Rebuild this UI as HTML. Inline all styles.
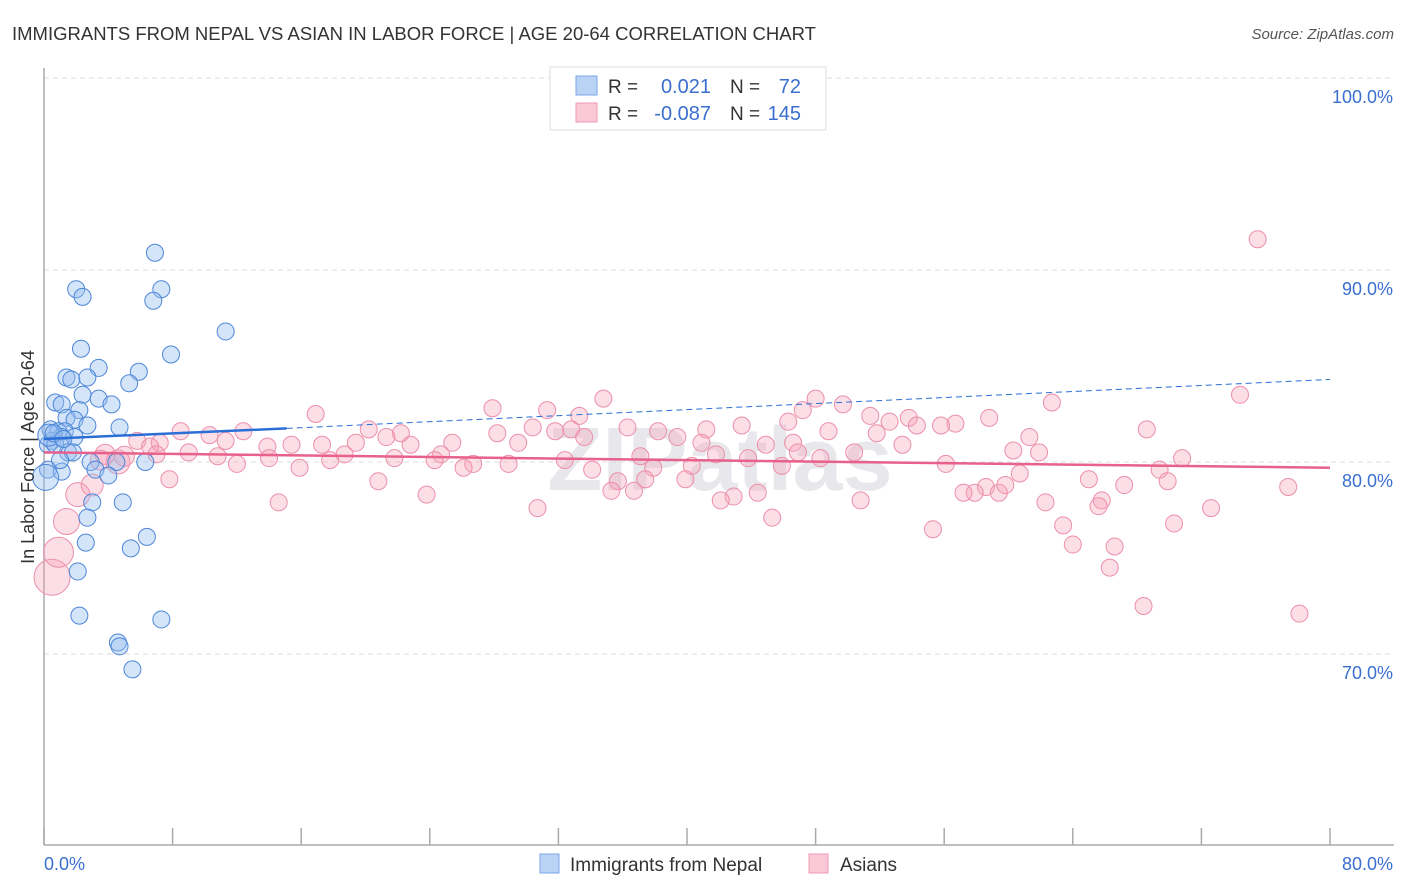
<!DOCTYPE html>
<html><head><meta charset="utf-8"><style>
body{margin:0;background:#fff;font-family:"Liberation Sans",sans-serif;}
svg{display:block}
</style></head><body>
<svg id="chart" width="1406" height="892" viewBox="0 0 1406 892">
<text x="12" y="40" font-size="18.5" fill="#333">IMMIGRANTS FROM NEPAL VS ASIAN IN LABOR FORCE | AGE 20-64 CORRELATION CHART</text>
<text x="1394" y="39" font-size="15" fill="#555" font-style="italic" text-anchor="end">Source: ZipAtlas.com</text>
<text x="720" y="490" font-size="90" fill="#e8e8ec" text-anchor="middle" font-weight="bold">ZIPatlas</text>
<g id="grid"></g>
<g id="axes"></g>
<g id="pts"></g>
<g id="trends"></g>
<text transform="translate(34,457) rotate(-90)" font-size="18" fill="#333" text-anchor="middle">In Labor Force | Age 20-64</text>
<g>
<rect x="550" y="67" width="276" height="63" fill="#fff" stroke="#ddd"/>
<rect x="576" y="76" width="21" height="19" fill="#b9d3f5" stroke="#7aa6e6"/>
<rect x="576" y="103" width="21" height="19" fill="#fac8d6" stroke="#ee9ab2"/>
<text x="608" y="93" font-size="19" fill="#333">R =</text>
<text x="711" y="93" font-size="20" fill="#3a6fd0" text-anchor="end">0.021</text>
<text x="730" y="93" font-size="19" fill="#333">N =</text>
<text x="801" y="93" font-size="20" fill="#3a6fd0" text-anchor="end">72</text>
<text x="608" y="120" font-size="19" fill="#333">R =</text>
<text x="711" y="120" font-size="20" fill="#3a6fd0" text-anchor="end">-0.087</text>
<text x="730" y="120" font-size="19" fill="#333">N =</text>
<text x="801" y="120" font-size="20" fill="#3a6fd0" text-anchor="end">145</text>
</g>
<g>
<rect x="540" y="854" width="19" height="19" fill="#b9d3f5" stroke="#7aa6e6"/>
<text x="570" y="871" font-size="19" fill="#333">Immigrants from Nepal</text>
<rect x="809" y="854" width="19" height="19" fill="#fac8d6" stroke="#ee9ab2"/>
<text x="840" y="871" font-size="19" fill="#333">Asians</text>
</g>
</svg>
<script>
const yTicks=[100,90,80,70];
const yTickLabels=["100.0%","90.0%","80.0%","70.0%"];
const xTicks=[0,8,16,24,32,40,48,56,64,72,80];
const xEndLabels=["0.0%","80.0%"];
const nepal=[[6.9,90.9],[2.0,89.0],[2.4,88.6],[7.3,89.0],[6.8,88.4],[11.3,86.8],[2.3,85.9],[7.9,85.6],[3.4,84.9],[5.9,84.7],[1.4,84.4],[1.7,84.3],[2.7,84.4],[5.3,84.1],[2.4,83.5],[3.4,83.3],[0.7,83.1],[1.1,83.0],[4.2,83.0],[2.2,82.7],[1.4,82.3],[1.9,82.2],[2.7,81.9],[4.7,81.8],[0.4,81.7],[0.9,81.6],[1.3,81.6],[1.9,81.3],[0.5,81.1],[1.1,81.3],[0.25,80.9],[1.5,80.5],[1.8,80.5],[2.9,80.0],[4.5,80.0],[6.3,80.0],[3.2,79.6],[4.0,79.3],[0.25,79.6],[1.1,79.5],[3.0,77.9],[4.9,77.9],[2.7,77.1],[2.6,75.8],[6.4,76.1],[5.4,75.5],[2.1,74.3],[2.2,72.0],[7.3,71.8],[4.6,70.6],[4.7,70.4],[5.5,69.2],[0.1,79.2,13],[0.7,80.9],[1.0,80.1],[0.3,81.4,11],[0.6,81.5],[1.2,81.2]];
const asians=[[75.5,91.6],[74.4,83.5],[62.7,83.1],[34.8,83.3],[48.0,83.3],[49.7,83.0],[27.9,82.8],[31.3,82.7],[33.3,82.4],[47.2,82.7],[16.9,82.5],[51.4,82.4],[53.8,82.3],[58.8,82.3],[56.7,82.0],[55.8,81.9],[54.3,81.9],[52.6,82.1],[46.3,82.1],[43.4,81.9],[41.2,81.7],[36.3,81.8],[32.8,81.7],[30.4,81.8],[68.6,81.7],[20.2,81.7],[22.2,81.5],[28.2,81.5],[31.8,81.6],[38.2,81.6],[48.8,81.6],[51.8,81.5],[61.3,81.3],[8.5,81.6],[10.3,81.4],[12.4,81.6],[21.3,81.3],[11.3,81.1],[15.4,80.9],[17.3,80.9],[19.4,81.0],[22.8,80.9],[25.4,81.0],[29.5,81.0],[33.6,81.3],[39.4,81.3],[40.9,81.0],[44.9,80.9],[46.6,81.0],[53.4,80.9],[60.3,80.6],[61.9,80.5],[5.8,81.1],[7.2,81.0],[13.9,80.8],[9.0,80.5],[10.8,80.3],[14.0,80.2],[18.7,80.4],[17.8,80.1],[21.8,80.2],[24.7,80.4],[26.7,79.9],[28.9,79.9],[32.4,80.1],[37.1,80.3],[41.8,80.4],[43.8,80.2],[46.9,80.5],[48.3,80.2],[50.4,80.5],[24.3,80.1],[12.0,79.9],[15.9,79.7],[26.1,79.7],[34.1,79.6],[37.9,79.7],[40.3,79.8],[45.9,79.8],[56.1,79.9],[69.4,79.6],[70.8,80.2],[60.7,79.4],[65.0,79.1],[69.9,79.0],[77.4,78.7],[67.2,78.8],[65.8,78.0],[65.6,77.7],[72.6,77.6],[62.3,77.9],[58.6,78.7],[57.9,78.4],[57.2,78.4],[59.4,78.4],[59.8,78.8],[50.8,78.0],[44.4,78.4],[42.9,78.2],[42.1,78.0],[39.9,79.1],[37.4,79.1],[35.7,79.0],[35.3,78.5],[36.7,78.5],[23.8,78.3],[20.8,79.0],[7.8,79.1],[14.6,77.9],[30.7,77.6],[45.3,77.1],[55.3,76.5],[63.4,76.7],[70.3,76.8],[64.0,75.7],[66.6,75.6],[66.3,74.5],[68.4,72.5],[78.1,72.1],[0.5,74.0,18],[0.9,75.3,15],[1.4,76.9,13],[2.1,78.3,12],[3.0,78.8,11],[4.6,80.0,12],[3.8,80.4,10],[5.0,80.3,10],[3.5,80.1,10],[6.6,80.8],[7.0,80.4]];
const nepalTrend=[[0,81.2],[15.1,81.75],[80,84.3]];
const asianTrend=[[0,80.5],[80,79.7]];
const X=v=>44+v*(1286/80), Y=v=>462-(v-80)*19.2;
const NS="http://www.w3.org/2000/svg";
function mk(tag,attrs,parent){const e=document.createElementNS(NS,tag);for(const k in attrs)e.setAttribute(k,attrs[k]);parent.appendChild(e);return e;}
const grid=document.getElementById('grid'),axes=document.getElementById('axes'),pts=document.getElementById('pts'),tr=document.getElementById('trends');
yTicks.forEach((t,i)=>{
 const l=mk('line',{x1:44,x2:1394,y1:Y(t),y2:Y(t),stroke:'#ddd','stroke-dasharray':'5,4'},grid);
 
 
 const tx=mk('text',{x:1393,y:Y(t)+25,'font-size':18,fill:'#3a6fd0','text-anchor':'end'},axes);
 tx.textContent=yTickLabels[i];
 
 
});
let a=mk('line',{x1:44,x2:44,y1:68,y2:845,stroke:'#aaa','stroke-width':1.5},axes);


a=mk('line',{x1:44,x2:1394,y1:845,y2:845,stroke:'#aaa','stroke-width':1.5},axes);


xTicks.forEach(t=>{
 const l=mk('line',{x1:X(t),x2:X(t),y1:828,y2:845,stroke:'#aaa','stroke-width':1.5},axes);
 
 
});
let t1=mk('text',{x:44,y:870,'font-size':18,fill:'#3a6fd0'},axes);t1.textContent=xEndLabels[0];


let t2=mk('text',{x:1393,y:870,'font-size':18,fill:'#3a6fd0','text-anchor':'end'},axes);t2.textContent=xEndLabels[1];


asians.forEach(p=>{
 const c=mk('circle',{cx:X(p[0]),cy:Y(p[1]),r:p[2]||8.5,fill:'rgba(246,160,186,0.35)',stroke:'#ec8fab','stroke-width':1},pts);
 
 
});
nepal.forEach(p=>{
 const c=mk('circle',{cx:X(p[0]),cy:Y(p[1]),r:p[2]||8.5,fill:'rgba(150,190,240,0.4)',stroke:'#4d86d8','stroke-width':1},pts);
 
 
});
let l1=mk('line',{x1:X(nepalTrend[0][0]),y1:Y(nepalTrend[0][1]),x2:X(nepalTrend[1][0]),y2:Y(nepalTrend[1][1]),stroke:'#2a6fd6','stroke-width':2.5},tr);


let l2=mk('line',{x1:X(nepalTrend[1][0]),y1:Y(nepalTrend[1][1]),x2:X(nepalTrend[2][0]),y2:Y(nepalTrend[2][1]),stroke:'#2a6fd6','stroke-width':1,'stroke-dasharray':'6,4'},tr);


let l3=mk('line',{x1:X(asianTrend[0][0]),y1:Y(asianTrend[0][1]),x2:X(asianTrend[1][0]),y2:Y(asianTrend[1][1]),stroke:'#e8608c','stroke-width':2.5},tr);


</script>
</body></html>
